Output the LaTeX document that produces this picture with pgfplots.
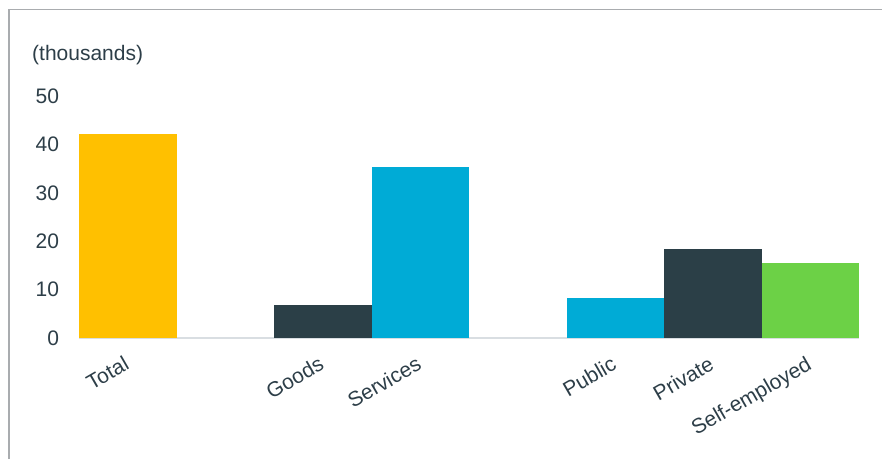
\documentclass[border=0pt]{standalone}
\usepackage{pgfplots}
\pgfplotsset{compat=1.18}
\usepackage{fontspec}
\setmainfont{Liberation Sans}
\definecolor{txt}{HTML}{2D3E48}
\definecolor{cyel}{HTML}{FFC000}
\definecolor{ccyan}{HTML}{00ABD6}
\definecolor{cdark}{HTML}{2B3F47}
\definecolor{cgreen}{HTML}{6CD146}
\definecolor{base}{HTML}{D9DEE2}
\definecolor{frame}{HTML}{A9ACAF}
\begin{document}
\fontsize{21}{25}\selectfont
\begin{tikzpicture}[x=1pt,y=1pt]
\path[use as bounding box] (0,0) rectangle (882,-459);
\draw[frame, line width=1.6pt] (9,-459) -- (9,-9.5) -- (882,-9.5);
\node[anchor=west, inner sep=0pt, text=txt, font=\fontsize{21}{25}\selectfont] at (32,-55) {(thousands)};
\begin{axis}[
  at={(79pt,-338pt)}, anchor=south west,
  scale only axis, width=780pt, height=242pt,
  xmin=-0.5, xmax=7.5, ymin=0, ymax=50,
  axis x line=bottom, axis y line=left,
  x axis line style={draw=base, line width=2.5pt, -},
  y axis line style={draw=none},
  ytick={0,10,20,30,40,50},
  xtick={0,2,3,5,6,7},
  xticklabels={Total,Goods,Services,Public,Private,Self-employed},
  major tick length=0pt,
  tick style={draw=none},
  /pgf/number format/assume math mode=true,
  ticklabel style={font=\fontsize{21}{25}\selectfont, text=txt},
  yticklabel style={anchor=east, inner sep=0pt, xshift=-19.7pt},
  xticklabel style={xshift=-5pt, yshift=-17pt, rotate=30, anchor=north east, inner sep=0pt},
  bar width=1,
  clip=false,
]
\addplot[ybar, bar shift=0pt, fill=cyel, draw=none] coordinates {(0,42.1)};
\addplot[ybar, bar shift=0pt, fill=cdark, draw=none] coordinates {(2,6.8)};
\addplot[ybar, bar shift=0pt, fill=ccyan, draw=none] coordinates {(3,35.3)};
\addplot[ybar, bar shift=0pt, fill=ccyan, draw=none] coordinates {(5,8.3)};
\addplot[ybar, bar shift=0pt, fill=cdark, draw=none] coordinates {(6,18.4)};
\addplot[ybar, bar shift=0pt, fill=cgreen, draw=none] coordinates {(7,15.5)};
\end{axis}
\end{tikzpicture}
\end{document}
